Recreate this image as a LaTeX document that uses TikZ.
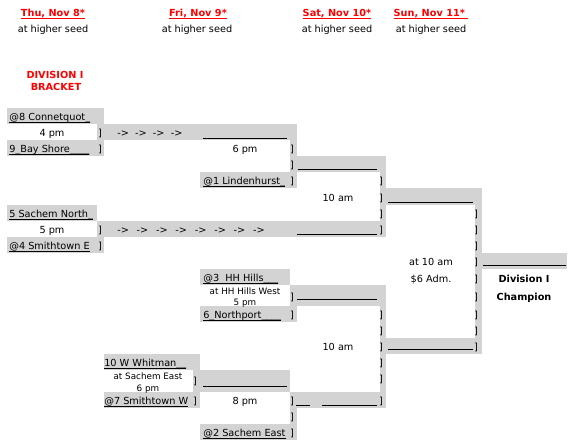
\documentclass[tikz,border=0pt]{standalone}
\usepackage{fontspec}
\setmainfont{DejaVu Sans}
\usetikzlibrary{positioning}
\definecolor{cellgray}{RGB}{211,211,211}
\newcommand{\teamline}[1]{\underline{\smash{#1}}}

\begin{document}
\begin{tikzpicture}[x=0.75pt,y=-0.75pt]
\tikzset{
  cell/.style={fill=cellgray},
  team/.style={anchor=base west, inner sep=0pt, font=\fontsize{7.3}{9}\selectfont},
  slot/.style={anchor=base, inner sep=0pt, font=\fontsize{7.3}{9}\selectfont},
  site/.style={anchor=base, inner sep=0pt, font=\fontsize{6.6}{9}\selectfont},
  day/.style={anchor=base, inner sep=0pt, text=red, font=\bfseries\fontsize{7.3}{9}\selectfont},
  champ/.style={anchor=base, inner sep=0pt, font=\bfseries\fontsize{7.3}{9}\selectfont},
  fillin/.style={line width=0.55pt}
}
\useasboundingbox (0,0) rectangle (580,447);

% Shaded cells
\fill[cell] (7,108) rectangle (104,124);
\fill[cell] (97,124) rectangle (297,140);
\fill[cell] (7,140) rectangle (104,156);
\fill[cell] (290,140) rectangle (297,188);
\fill[cell] (290,156) rectangle (386,172);
\fill[cell] (200,172) rectangle (297,188);
\fill[cell] (380,172) rectangle (386,237);
\fill[cell] (380,188) rectangle (482,205);
\fill[cell] (7,205) rectangle (97,221);
\fill[cell] (97,221) rectangle (386,237);
\fill[cell] (7,237) rectangle (104,253);
\fill[cell] (475,205) rectangle (482,354);
\fill[cell] (482,253) rectangle (567,269);
\fill[cell] (200,269) rectangle (290,285);
\fill[cell] (290,285) rectangle (386,306);
\fill[cell] (200,306) rectangle (297,322);
\fill[cell] (380,306) rectangle (386,408);
\fill[cell] (386,338) rectangle (482,354);
\fill[cell] (104,354) rectangle (200,370);
\fill[cell] (193,370) rectangle (290,392);
\fill[cell] (104,392) rectangle (200,408);
\fill[cell] (290,392) rectangle (386,408);
\fill[cell] (290,392) rectangle (297,440);
\fill[cell] (200,424) rectangle (297,440);

% Headings
\node[day] (thu) at (53,16) {\teamline{Thu, Nov 8*}};
\node[slot] (thuseed) at (53,32) {at higher seed};
\node[day] (fri) at (198,16) {\teamline{Fri, Nov 9*}};
\node[slot] (friseed) at (197,32) {at higher seed};
\node[day] (sat) at (337,16) {\teamline{Sat, Nov 10*}};
\node[slot] (satseed) at (337,32) {at higher seed};
\node[day] (sun) at (431,16) {\teamline{Sun, Nov 11*\ }};
\node[slot] (sunseed) at (431,32) {at higher seed};
\node[day] (div) at (55,78) {DIVISION I};
\node[day] (bracket) at (56,90) {BRACKET};

% Teams
\node[team] (s8) at (9,120) {\teamline{@8 Connetquot\_}};
\node[team] (s9) at (9,152) {\teamline{9\_Bay Shore\_\_\_\_}};
\node[team] (s1) at (203,184) {\teamline{@1 Lindenhurst\_}};
\node[team] (s5) at (9,217) {\teamline{5 Sachem North\_}};
\node[team] (s4) at (9,249) {\teamline{@4 Smithtown E}};
\node[team] (s3) at (203,281) {\teamline{@3 \ HH Hills\_\_\_}};
\node[team] (s6) at (203,318) {\teamline{6\_Northport\_\_\_\_}};
\node[team] (s10) at (104,366) {\teamline{10 W Whitman\_\_}};
\node[team] (s7) at (104,404) {\teamline{@7 Smithtown W}};
\node[team] (s2) at (203,436) {\teamline{@2 Sachem East}};

% Game times and sites
\node[slot] (g1) at (52,136) {4 pm};
\node[slot] (g2) at (52,233) {5 pm};
\node[site] (g3) at (245,294) {at HH Hills West};
\node[site] (g3t) at (245,305) {5 pm};
\node[site] (g4) at (148,379) {at Sachem East};
\node[site] (g4t) at (148,391) {6 pm};
\node[slot] (q1) at (245,152) {6 pm};
\node[slot] (q2) at (245,404) {8 pm};
\node[slot] (sf1) at (338,201) {10 am};
\node[slot] (sf2) at (338,350) {10 am};
\node[slot] (fin) at (431,265) {at 10 am};
\node[slot] (adm) at (431,282) {\$6 Adm.};
\node[champ] (champ) at (524,282) {Division I};
\node[champ, below=13.5pt of champ.base, anchor=base] (champb) {Champion};

% Byes
\node[team] (bye1) at (117,136) {->\ \ ->\ \ ->\ \ ->};
\node[team] (bye2) at (117,233) {->\hspace{5.8pt}->\hspace{5.8pt}->\hspace{5.8pt}->\hspace{5.8pt}->\hspace{5.8pt}->\hspace{5.8pt}->\hspace{5.8pt}->};

% Winner lines
\draw[fillin] (203,138) -- (287,138);
\draw[fillin] (298,169) -- (377,169);
\draw[fillin] (388,202) -- (473,202);
\draw[fillin] (297,234) -- (377,234);
\draw[fillin] (483,265) -- (566,265);
\draw[fillin] (297,299) -- (377,299);
\draw[fillin] (388,349) -- (473,349);
\draw[fillin] (203,386) -- (287,386);
\draw[fillin] (296,405) -- (310,405);
\draw[fillin] (322,405) -- (377,405);

% Bracket marks
\foreach \y [count=\i] in {136,152,233,249}
  \node[slot] (bb\i) at (100,\y) {]};
\foreach \y [count=\i] in {384,404}
  \node[slot] (bc\i) at (195,\y) {]};
\foreach \y [count=\i] in {152,168,184,300,318,404,420,436}
  \node[slot] (be\i) at (292,\y) {]};
\foreach \y [count=\i] in {184,201,217,233,318,334,350,366,382,404}
  \node[slot] (bg\i) at (381,\y) {]};
\foreach \y [count=\i] in {217,233,249,265,282,300,318,334,350}
  \node[slot] (bi\i) at (476,\y) {]};
\end{tikzpicture}
\end{document}
